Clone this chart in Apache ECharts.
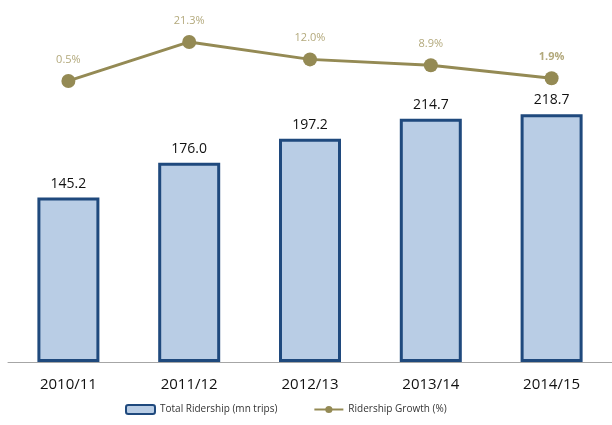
<!DOCTYPE html>
<html>
<head>
<meta charset="utf-8">
<script src="https://cdn.jsdelivr.net/npm/echarts@6/dist/echarts.min.js"></script>
<style>
  html, body { margin: 0; padding: 0; background: #fff; }
  #chart { width: 612px; height: 425px; }
</style>
</head>
<body>
<div id="chart"></div>
<script>
  const years = ['2010/11', '2011/12', '2012/13', '2013/14', '2014/15'];
  const ridership = [145.2, 176.0, 197.2, 214.7, 218.7];
  const growth = [0.5, 21.3, 12.0, 8.9, 1.9];

  const chart = echarts.init(document.getElementById('chart'));
  chart.setOption({
    animation: false,
    textStyle: { fontFamily: 'Open Sans' },
    grid: { left: 8, right: -6, top: 20, bottom: 63 },
    legend: {
      bottom: 5,
      left: 120,
      itemGap: 36,
      itemWidth: 29,
      itemHeight: 9,
      textStyle: { fontSize: 10, color: '#333', fontFamily: 'Open Sans' },
      data: [
        { name: 'Total Ridership (mn trips)' },
        { name: 'Ridership Growth (%)' }
      ]
    },
    xAxis: {
      type: 'category',
      data: years,
      axisLine: { lineStyle: { color: '#a6a6a6', width: 1 } },
      axisTick: { show: false },
      axisLabel: { fontSize: 15, color: '#111', margin: 15 }
    },
    yAxis: [
      { type: 'value', min: 0, max: 302, show: false, splitLine: { show: false } },
      { type: 'value', min: -149.4, max: 33, show: false, splitLine: { show: false } }
    ],
    series: [
      {
        name: 'Total Ridership (mn trips)',
        type: 'bar',
        data: ridership,
        barWidth: 62,
        itemStyle: { color: '#b9cde5', borderColor: '#1f497d', borderWidth: 3 },
        label: {
          show: true,
          position: 'top',
          distance: 7,
          fontSize: 14,
          color: '#111',
          formatter: p => p.value.toFixed(1)
        }
      },
      {
        name: 'Ridership Growth (%)',
        type: 'line',
        yAxisIndex: 1,
        data: growth.map((v, i) => i === growth.length - 1
          ? { value: v, label: { fontWeight: 'bold' } }
          : v),
        symbol: 'circle',
        symbolSize: 14,
        lineStyle: { color: '#948a54', width: 3 },
        itemStyle: { color: '#948a54' },
        label: {
          show: true,
          position: 'top',
          distance: 9,
          fontSize: 11,
          color: '#b3a97c',
          formatter: p => p.value.toFixed(1) + '%'
        }
      }
    ]
  });
</script>
</body>
</html>
